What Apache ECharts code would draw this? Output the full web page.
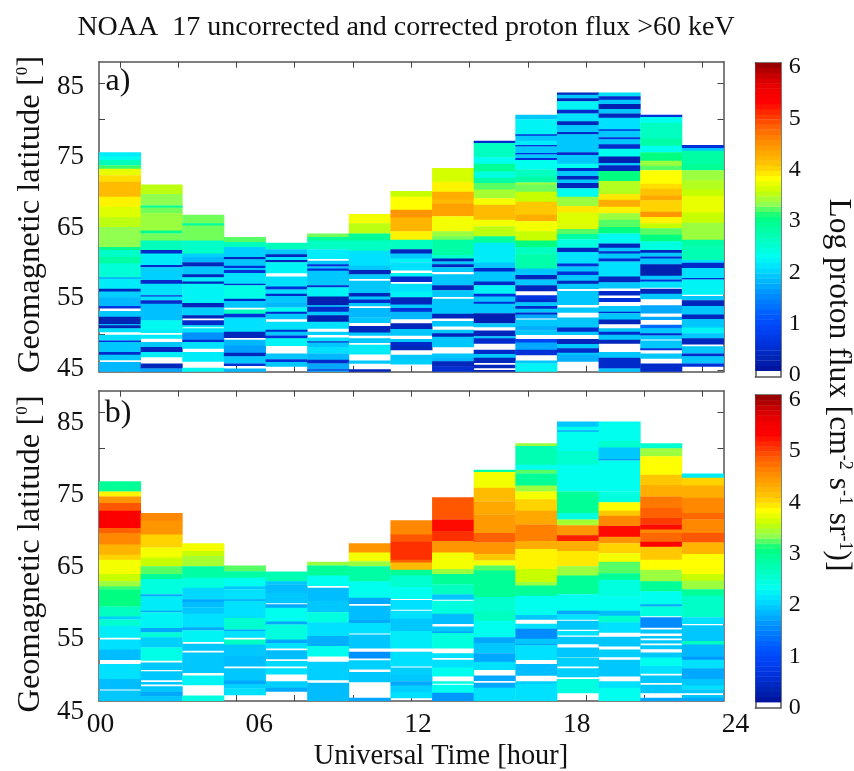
<!DOCTYPE html>
<html><head><meta charset="utf-8">
<style>html,body{margin:0;background:#fff}#c{width:854px;height:771px}</style>
<script src="https://cdn.jsdelivr.net/npm/echarts@6/dist/echarts.min.js"></script>
</head><body><div id="c"></div>
<script>
// Each column is [top latitude, log flux, ...]; a band runs down to the next top. -1 = no counts (white).
const a01=[75.4,2.1,74.8,2.25,74.3,2.6,73.6,3.1,73.1,3.65,72.2,3.9,71.3,4.1,69.2,3.8,67.8,3.6,66.4,3.45,65,3.25,62.2,2.9,61.8,2.5,60.8,2.75,59.9,2.4,58,1.65,57.8,2.1,56.4,.3,56,1.9,55.2,1.75,54,.6,53.7,-1,53.3,1.85,52.5,.25,51.5,1.75,51.3,.25,50.9,2,50.4,-1,50,2,49.2,.5,49,1.85,47.6,.4,47.2,1.85,46.5,-1,46.2,1.75];
const a02=[70.9,3.45,69.6,3.25,68,2.8,67.7,3.2,66.9,3.3,64.5,2.9,64.1,3.2,63.1,2.6,61.8,.4,61.3,2.1,59.7,.4,59.4,1.9,57.6,.4,57.1,2,55.5,.5,55.3,2,54.8,.4,54.3,1.8,52,2.2,50.7,2.1,50.3,-1,50,2.1,49.5,-1,49,1.85,48.3,.3,47.6,2.1,46.9,-1,46,.3,45.3,1.65];
const a03=[66.7,3.2,65.5,2.8,65.2,3.2,63.1,2.5,61.3,1.9,60.8,1.75,60.1,.3,59.5,1.85,58.4,.3,58,2.1,57.4,.3,57.1,2.15,54.4,.3,53.8,1.9,52.7,.3,52.3,-1,52,.4,51.3,2.1,51.1,-1,50.9,2,50.3,1.5,49.3,.4,49,2,48.1,-1,47.6,2.1,46.3,-1,45.4,2.2];
const a04=[63.6,3.15,62.9,2.6,62.2,1.9,60.8,.3,60.5,1.85,59.6,.5,59.3,1.85,59,.5,58.6,2,57.1,.4,56.9,2.3,55,.4,54.7,1.85,53.8,-1,53.5,2.55,52.9,.5,52.4,2,50.4,.3,49.6,-1,49.3,1.75,48.5,1.6,47.5,.3,47,1.85,46,.5,45.7,-1,45.3,1.75];
const a05=[62.8,2.6,61.9,1.85,61.2,.3,60.8,2,60.4,.3,60.1,2.15,58.6,-1,58.1,2,56.7,.5,56.3,2,55.7,.4,55.4,1.85,54.5,1.75,53.8,2.25,53.2,.4,52.9,1.85,52.2,-1,51.8,2,50.7,.4,50.4,1.85,49.9,.5,49.5,2.15,48.5,-1,47.4,1.85,46.6,.5,46.2,1.85,45.6,-1];
const a06=[64.1,3.2,63.6,2.85,63.1,2.55,61.9,2.1,60.6,-1,60.3,1.85,59.8,.5,59.5,1.85,59.2,.5,58.9,1.85,56.9,.4,56.6,2.15,55.3,.2,54.1,1.85,53.9,.4,53.2,1.85,52.7,.2,51.8,2,50.9,-1,50.4,1.9,50,-1,49.6,2,49.1,.4,48.9,1.85,48.3,2,47.4,1.75,46.5,.4,46,1.65,45.2,.5,45,1.65];
const a07=[66.8,3.7,65.5,3.45,64.1,2.85,63.1,2.55,61.7,2,59.6,1.85,59,.3,58.4,1.85,57.8,-1,57.5,1.85,55.8,.3,55.3,1.85,54.9,.4,54.4,1.85,54,-1,53.7,1.75,52.4,1.85,51.7,-1,51.2,.3,50.3,1.85,49.9,-1,49.5,1.85,48.9,-1,48.6,2.1,47.3,-1,46.4,1.85,46,-1,45.2,.3];
const a08=[70,3.5,69.2,3.75,67.4,4.4,66.3,4.15,64.4,3.8,63.2,2.55,61.9,.3,61.3,1.85,60.6,2.15,60.1,2,59,-1,58.6,2.15,58.1,.4,57.4,-1,57.1,2,56,2.15,55.2,.3,54.2,1.85,53.7,.5,53.2,1.75,52.2,-1,51.6,.3,50.8,1.85,49.9,-1,49.4,1.85,49,.4,48.5,.3,47.9,-1,47.2,1.85,46.5,1.9,45.9,-1];
const a09=[73.2,3.55,71.3,3.8,69.9,4.2,68.8,4.1,68.3,4.3,66.5,3.7,64.4,3.3,63.7,3.2,63.2,2.75,61.1,2.45,60.6,.3,60.2,1.85,59.8,.3,59.4,1.85,58.8,-1,58.4,1.85,56.9,.3,56.2,1.85,55.3,-1,55,1.85,52.9,.3,52.3,-1,51.9,1.85,51.2,-1,50.7,1.85,50.2,.3,49.7,1.85,48.3,-1,47.4,1.85,46.8,1.75,46.3,.3,45.6,.45];
const a10=[77,.4,76.7,2.55,74.7,2.25,73.8,2.85,72.7,2.35,71.8,2.75,71.1,3.15,70.2,3.35,69,3.7,68.1,4.1,66,3.7,65.1,3.45,63.7,2.8,62.8,2.1,60,1.85,59.3,.4,58.8,1.85,57.4,.4,56.9,2.15,55.7,.5,55.3,1.85,54.6,.5,54.3,1.85,53,.2,51.6,1.85,51.1,-1,50.6,.3,49.8,1.85,49.5,.4,48.8,-1,47.9,.4,47.3,1.85,46.8,.3,46.1,-1,45.8,.3,45.4,-1,45.1,.3];
const a11=[80.6,1.85,80,2.15,77.9,.5,77.7,1.85,77,2.1,76.4,.5,76.2,1.85,75.3,.5,75.1,1.85,74.6,.5,74.3,2.25,73,2.55,72,2.75,71.2,3.3,70.9,3.2,69.9,3.5,68.5,4,66.7,4.2,65.8,3.7,64.4,3.5,63.1,3,62.2,2.55,61.2,2.7,59.2,1.85,58.3,.3,57.7,1.85,56.9,.3,56.1,-1,55.5,.6,54.9,.4,54.5,1.85,54,.4,53.6,1.85,53.1,.4,52.8,1.65,52.3,-1,52.1,1.85,51.2,1.7,50.6,1.85,50,-1,49.4,.8,48.9,1.65,47.9,.5,47.2,-1,46.4,1.85,46,2.15];
const a12=[83.7,.3,83.4,1.85,82.9,.3,82.5,2.15,81.3,.4,80.8,2,79.7,.3,79.2,1.85,78.2,.4,77.9,1.85,75.4,.4,75,1.85,73.8,2.25,73.2,.4,72.8,1.85,72.1,.3,71.6,1.85,71.1,.3,70.4,2.25,69.2,3.3,67.9,3.85,67,3.6,64.7,3.15,64,2.75,63.3,2.35,62.1,.3,61.5,2,59.9,.5,59.5,1.85,58.8,.5,58.3,1.85,57.5,.3,57.1,1.85,56.4,-1,56.1,1.85,54.2,-1,53.8,1.85,53.1,-1,52.4,1.85,51,.4,50.4,1.85,50,-1,49.4,.3,48.7,1.85,48.1,.4,47.5,1.85,47.2,1.7,46.3,-1];
const a13=[83.7,2,83.2,.4,82.7,1.85,82.1,.2,81.4,1.85,80.8,.3,80.2,2,78.6,.5,78.4,1.85,77.5,.5,77.2,1.85,76.5,.4,75.9,2.25,74.8,.2,73.9,1.85,73.6,.3,72.8,3,71.4,3.4,69.6,3.85,68.8,4.2,67.8,3.8,66.9,3.3,66,3.15,65,3,64.1,2.2,62.7,.3,62.1,1.85,61.6,.4,61.3,1.85,60.6,.4,60.2,2,58.1,.3,57.3,1.85,56.5,-1,56.1,.4,55.5,-1,55.1,.5,54.6,-1,54,1.85,53.2,.4,53,1.85,52.1,.3,51.5,-1,50.9,1.85,50.4,.4,50,1.85,49.3,.3,48.8,-1,47.6,1.85,46.8,.4,45.3,1.85];
const a14=[80.6,.5,80.3,2.25,79.5,2.55,77.3,2.75,76.3,2.25,75.4,3,74.2,3.3,73.5,3.15,72.9,3.75,71,3.9,70.3,4.05,69.4,4.25,68.7,3.95,67.1,4.4,66.4,3.8,65.5,3.5,64.8,3.15,63.9,3,63,2.35,61.8,.3,61.4,1.85,60.9,.4,60.6,1.85,59.8,.2,58.2,1.85,57.7,.5,57.4,2,56.6,-1,56.4,.3,55.7,1.85,55,-1,54.1,1.65,53,-1,52.5,1.65,52.1,-1,51.4,1.2,50.9,1.85,50.2,.4,49.9,1.85,49.4,-1,49.2,1.85,48.1,.5,47.9,-1,47.4,1.85,46.7,-1,46,.4];
const a15=[76.4,.5,76,1.85,75.6,2.75,73.8,2.85,72.9,3.3,71.5,3.4,70.2,3.5,69.3,3.65,67,3.5,65.6,3.3,63.2,2.75,62.3,2.65,60.4,2,60,.4,59.3,2,57.9,.5,57.7,2.15,55.6,-1,55.4,1.85,54.8,.3,54,1.85,52.8,.3,52.2,1.85,51,2.15,50.2,1.85,49.5,.3,48.7,-1,48.4,1.85,47.4,.4,47,1.85,46,.5,45.6,-1];
const b01=[75.4,2.85,74,3.8,73.3,4.4,72.4,4.8,71.3,5.3,68.9,4.75,68.2,4.5,66.6,4.15,65.2,3.95,64.5,3.7,62.5,3.5,61.5,3.3,60.8,3.1,60.4,3,58,2.55,56.6,1.9,56.2,2.45,55.3,2.1,53.7,-1,53.4,2,52,1.78,50.6,-1,50,2,47.9,1.78,46.5,-1,46.3,1.85];
const b02=[71,4.5,69.9,4.4,68,3.95,66.2,3.7,64.8,3.5,63.6,3.15,62.5,2.85,61.8,2.35,59.7,1.65,59.4,2.1,57.4,1.65,57.2,2.15,55,1.65,54.4,2.4,53.7,1.9,52.3,2.3,50.5,-1,50.2,1.85,49.2,-1,49,1.85,47.8,-1,47.5,1.85,47.2,-1,46.9,1.85,46.1,1.65,45.5,1.85];
const b03=[66.8,3.7,65.7,3.5,65,3.35,63.6,2.75,62,2.35,60.6,1.95,59,1.65,58.6,1.78,57.9,1.85,57,2,55.1,1.65,54.7,2.15,53.1,-1,52.8,1.85,51.9,-1,51.6,1.85,48.8,-1,48.4,2.15,47.1,-1,45.6,2.35];
const b04=[63.7,3.15,62.9,2.75,62,2.25,60.8,1.85,60.4,2,59,1.65,58.8,2,56.4,2.45,54.8,1.65,54.6,2,53.7,-1,53.4,2.55,52.7,1.85,51.1,1.78,49.7,-1,49.4,1.85,47.7,1.65,47.2,1.9,46.6,2,45.7,-1];
const b05=[62.85,2.65,61.5,1.85,61.1,1.78,59.9,1.85,58.5,-1,58.3,1.65,57.8,2.25,55.9,1.65,55.5,2.35,53.4,1.65,52.9,2,52.2,-1,51.9,1.78,50.7,-1,50.4,1.95,49.7,-1,49.4,2,48.6,-1,47.6,1.9,46.7,1.65,46.2,-1];
const b06=[64.2,3.3,63.7,2.85,62.3,2.25,60.9,-1,60.6,1.78,58.8,1.85,57.2,2.35,55.8,2,53.9,1.7,52.5,2.25,51.1,-1,50.3,1.9,47.8,-1,47.4,1.78];
const b07=[66.8,4.4,65.5,3.7,64.3,3.3,63.6,2.75,61.5,2.25,59.2,1.65,58.4,-1,58.1,1.78,56.1,1.65,55.7,2,54.3,-1,54.1,1.85,52.2,-1,51.7,1.5,50.8,-1,50.5,1.9,49.3,-1,48.9,1.85,47.5,-1,45.3,1.65];
const b08=[70,4.5,68,4.8,67,5,64.5,4.75,64.1,4.1,63.1,2.85,62.3,2.45,60.7,2.25,59.1,-1,58.9,2,57.6,-1,57.4,2,56.3,1.85,54.6,2.1,52.2,-1,51.7,2,49.7,-1,49.5,1.9,48.5,1.85,47.6,1.65,47,1.9,46.1,2,45.3,-1];
const b09=[73.2,4.8,70.1,5.2,68.5,5,67.1,4.4,65.5,3.7,63.2,3.3,62.5,2.85,61.1,2.55,59.7,1.85,59,-1,58.8,2.35,57,1.78,55.6,-1,55.2,1.85,54.5,1.65,54.3,2.35,52.2,-1,51.5,2,50.9,-1,50.6,2,49.5,2.25,48.3,-1,47.6,2.35,47.3,-1,47.1,2.25,46,1.55];
const b10=[77,2.75,76.7,3.7,74.5,4.1,72.6,4.25,70.8,4.35,68.2,4.75,66.9,4.4,65.3,4,64.4,3.7,63.7,3.15,63,2.85,59.3,2.45,57.4,2.55,56,2.25,53.7,1.65,52.9,1.85,51.5,1.65,50.3,2,49.2,-1,48.4,1.65,47.7,-1,47.4,1.65,46.7,2,46,2];
const b11=[80.7,3.3,80.3,2.65,77.7,2.25,77,3.15,76.5,2.85,74.8,3.3,74,3.7,72.9,3.95,71.3,4.25,69.4,4.55,67.1,4.2,66,3.8,63.2,3.5,61.4,3.3,60.9,2.85,59.5,2.25,56.8,1.85,56.2,-1,55.6,2,54.9,1.45,53.5,1.85,52.8,1.65,52.6,2,50.6,-1,50,1.78,48.4,-1,47.6,1.9,47.2,2];
const b12=[83.7,1.85,83,2.25,82.5,1.65,82.3,2.25,79.6,2.45,77.7,2.25,74,2.85,71,2.35,70.1,3.35,69.3,4.4,67.9,5.1,67.1,4.2,65.7,3.85,63.6,3.3,62.3,2.85,59.7,2.25,57.4,1.65,56.9,2,56.2,-1,56,1.85,54.8,-1,54.6,2,54,-1,53.8,1.85,52.8,-1,52.3,1.85,51,-1,50.9,1.9,49.7,-1,49.4,1.9,48.2,-1,47.9,2.35,46,-1];
const b13=[83.7,2.25,81,2.45,80.1,1.85,78.5,1.55,78.3,2.25,74,2.35,72.5,3.75,71.3,4,70.6,4.5,69.2,5.2,67.7,4.4,66.8,3.95,65.4,3.7,64.2,3.15,62.6,2.85,61.7,2.35,59.4,2.25,57.4,1.78,56.7,2.45,55.8,2,54.4,-1,53.8,1.85,52.5,-1,52,1.9,51,-1,50.6,1.85,48.3,-1,47.6,2,46.7,2.25];
const b14=[80.7,2.45,80,3.3,78.9,3.75,76.3,4,74.9,4.2,73.3,4.6,71.7,4.75,70.3,4.95,69.4,5.2,68.7,4.5,68.2,4.7,67,5.25,66.3,4,64.5,3.75,63.1,3.3,61.5,2.85,60.1,2.25,58.3,1.65,58,2.35,56.7,-1,56.5,1.45,55.1,-1,54.8,1.85,54.3,-1,53.9,1.85,53.6,-1,53.3,1.85,52.9,-1,52.6,1.85,52.1,-1,51.6,1.85,50.9,2.25,49.7,2,48.7,-1,48.4,1.85,47.4,-1,47.1,1.85,46,-1,45.3,1.65];
const b15=[76.5,2.1,75.9,3.95,74.8,4.2,73.1,4.5,71,4.7,70.1,4.5,68.2,4.8,66.9,4.15,65.3,3.75,62.5,3.5,61.6,3.3,60.4,2.85,59.5,2.5,56.5,2,55.6,-1,55.4,1.85,53.2,2.55,52.7,1.75,51,1.55,50.6,2,49.4,1.65,47.9,1.85,47,2,46.5,1.85,46,-1,45.7,1.85,45.3,1.65];
const panelA=[a01,a02,a03,a04,a05,a06,a07,a08,a09,a10,a11,a12,a13,a14,a15];
const panelB=[b01,b02,b03,b04,b05,b06,b07,b08,b09,b10,b11,b12,b13,b14,b15];
const binHours=1.6;
const cbLevels=[.05,.15,.25,.35,.45,.55,.65,.75,.85,.95,1.05,1.15,1.25,1.35,1.45,1.55,1.65,1.75,1.85,1.95,2.05,2.15,2.25,2.35,2.45,2.55,2.65,2.75,2.85,2.95,3.05,3.15,3.25,3.35,3.45,3.55,3.65,3.75,3.85,3.95,4.05,4.15,4.25,4.35,4.45,4.55,4.65,4.75,4.85,4.95,5.05,5.15,5.25,5.35,5.45,5.55,5.65,5.75,5.85,5.95];
const jet=['#00109a','#0024b4','#0030d8','#0040f0','#0050ff','#0070ff','#0090ff','#00b8ff','#00e0ff','#00ffee','#00ffc8','#00ffa4','#00ff80','#90ff50','#c8ff00','#ffff00','#ffc800','#ffa800','#ff8800','#ff6000','#ff3000','#ff0000','#f00000','#c80000','#900000'];
const xTickHours=[.8,3.04,5.28,7.52,9.76,12,14.24,16.48,18.72,20.96,23.2];
const xLabels=[0,6,12,18,24];
const latTicks=[45,50,55,60,65,70,75,80,85];
const latLabels=[45,55,65,75,85];
const cbTicks=[1,2,3,4,5];
const cbLabels=[0,1,2,3,4,5,6];

const FONT='"Liberation Serif",serif', INK='#111', EDGE='#555';
const GL=99, GW=624.5;
function bands(panel){
  const out=[];
  panel.forEach((col,i)=>{
    for(let k=0;k<col.length;k+=2){
      const bot=k+2<col.length?col[k+2]:44.85;
      if(col[k+1]>=0) out.push([i*binHours,(i+1)*binHours,col[k],bot,col[k+1]]);
    }
  });
  return out;
}
function item(params,api){
  const p=api.coord([api.value(0),api.value(2)]), q=api.coord([api.value(1),api.value(3)]);
  return {type:'rect',shape:{x:p[0],y:p[1],width:q[0]-p[0]+.4,height:q[1]-p[1]+.4},style:{fill:api.visual('color')}};
}
const cbData=cbLevels.map(v=>[0,1,v+.05,v-.05,v]);
const line={show:true,onZero:false,lineStyle:{color:EDGE,width:1.5}};
const tick=(vals)=>({show:true,inside:true,length:6,customValues:vals,lineStyle:{color:'#444',width:1}});
const off={axisLine:{show:false},axisTick:{show:false},splitLine:{show:false}};
function panelX(g,pos){return {type:'value',gridIndex:g,position:pos,min:0,max:24,axisLine:line,axisTick:tick(xTickHours),axisLabel:{show:false},splitLine:{show:false}};}
function panelY(g,pos){return {type:'value',gridIndex:g,position:pos,min:44.85,max:88,axisLine:line,axisTick:tick(latTicks),axisLabel:{show:false},splitLine:{show:false}};}
function cbY(g,pos,ticks){return {type:'value',gridIndex:g,position:pos,min:-.117,max:6,axisLine:line,axisTick:ticks?tick(cbTicks):{show:false},axisLabel:{show:false},splitLine:{show:false}};}
function cbX(g,pos){return {type:'value',gridIndex:g,position:pos,min:0,max:1,axisLine:line,axisTick:{show:false},axisLabel:{show:false},splitLine:{show:false}};}
// Axes that only carry tick labels, in their own invisible grids, because the printed labels sit off their ticks.
function labelY(g,pos,min,max,vals,size,margin){return Object.assign({type:'value',gridIndex:g,position:pos,min,max,
  axisLabel:{show:true,customValues:vals,fontFamily:FONT,fontSize:size,color:INK,margin,hideOverlap:false}},off);}
const blankX=g=>({type:'value',gridIndex:g,min:0,max:1,show:false});
function series(x,y,data){return {type:'custom',xAxisIndex:x,yAxisIndex:y,clip:true,renderItem:item,encode:{x:[0,1],y:[2,3]},data,silent:true,animation:false};}
function text(t,x,y,size,rot,rich){return {type:'text',x,y,rotation:rot||0,style:{text:t,fontFamily:FONT,fontSize:size,fill:INK,align:'center',verticalAlign:'middle',rich:rich||undefined}};}
const supY={s:{fontFamily:FONT,fontSize:17,fill:INK,verticalAlign:'top',padding:[0,0,13,0]},n:{fontFamily:FONT,fontSize:32.5,fill:INK,lineHeight:32}};
const supC={s:{fontFamily:FONT,fontSize:18,fill:INK,verticalAlign:'top',padding:[0,0,13,0]},n:{fontFamily:FONT,fontSize:31.5,fill:INK,lineHeight:32}};
const option={
  animation:false,backgroundColor:'#fff',
  grid:[
    {left:GL,width:GW,top:61.7,height:310},
    {left:GL,width:GW,top:390.7,height:310.3},
    {left:755.3,width:25.4,top:62.7,height:314},
    {left:755.3,width:25.4,top:395,height:313},
    {left:100.5,width:635,top:390.7,height:310.3},
    {left:GL,width:GW,top:86.7,height:281.8},
    {left:GL,width:GW,top:423,height:288.5},
    {left:755.3,width:25.4,top:67,height:308},
    {left:755.3,width:25.4,top:399.5,height:308.5}
  ],
  xAxis:[panelX(0,'bottom'),panelX(0,'top'),panelX(1,'bottom'),panelX(1,'top'),cbX(2,'bottom'),cbX(3,'bottom'),
    Object.assign({type:'value',gridIndex:4,position:'bottom',min:0,max:24,
     axisLabel:{show:true,customValues:xLabels,fontFamily:FONT,fontSize:27.5,color:INK,margin:10,hideOverlap:false,formatter:v=>String(v).padStart(2,'0')}},off),
    cbX(2,'top'),cbX(3,'top'),blankX(5),blankX(6),blankX(7),blankX(8)],
  yAxis:[panelY(0,'left'),panelY(0,'right'),panelY(1,'left'),panelY(1,'right'),
    cbY(2,'right',true),cbY(3,'right',true),
    {type:'value',gridIndex:4,show:false,min:0,max:1},
    cbY(2,'left',false),cbY(3,'left',false),
    labelY(5,'left',45,85,latLabels,27,15),labelY(6,'left',45,85,latLabels,27,15),
    labelY(7,'right',0,6,cbLabels,24,8),labelY(8,'right',0,6,cbLabels,24,8)],
  visualMap:{show:false,type:'continuous',min:0,max:6,dimension:4,seriesIndex:[0,1,2,3],inRange:{color:jet}},
  series:[series(0,0,bands(panelA)),series(2,2,bands(panelB)),series(4,4,cbData),series(5,5,cbData)],
  graphic:[
    text('NOAA  17 uncorrected and corrected proton flux >60 keV',406,28,28),
    text('a)',118,82,32),
    text('b)',118,414,32),
    text('Universal Time [hour]',441,757,28.4),
    text('{n|Geomagnetic latitude [}{s|0}{n|]}',30,214.5,0,Math.PI/2,supY),
    text('{n|Geomagnetic latitude [}{s|0}{n|]}',30,554,0,Math.PI/2,supY),
    text('{n|Log proton flux [cm}{s|-2}{n| s}{s|-1}{n| sr}{s|-1}{n|)]}',838,385,0,-Math.PI/2,supC)
  ]
};
const chart=echarts.init(document.getElementById('c'),null,{renderer:'canvas'});
chart.setOption(option);
</script></body></html>
